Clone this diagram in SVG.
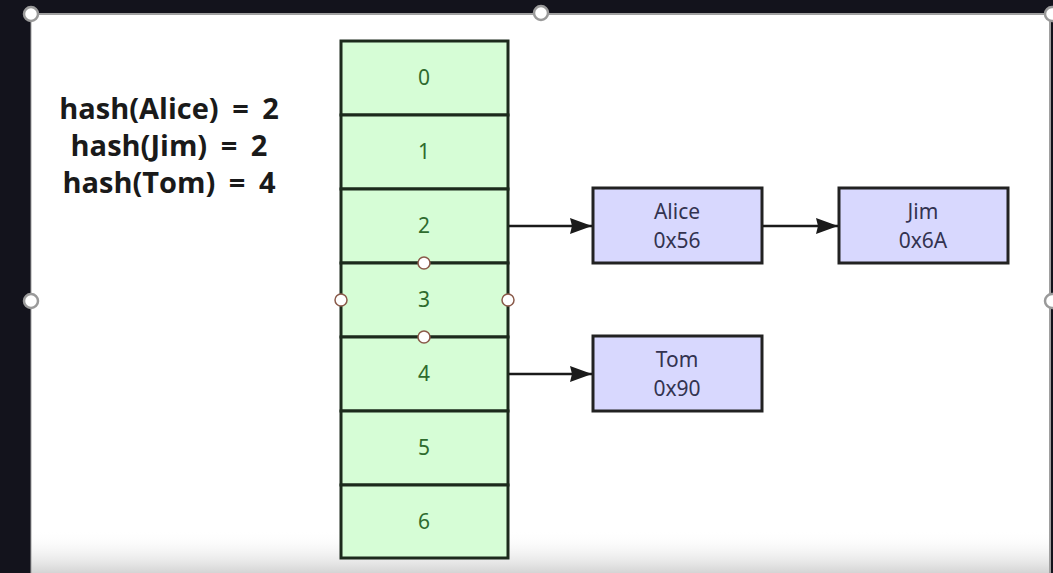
<svg xmlns="http://www.w3.org/2000/svg" width="1053" height="573" viewBox="0 0 1053 573">
<defs>
<linearGradient id="fade" x1="0" y1="0" x2="0" y2="1">
<stop offset="0" stop-color="#ffffff" stop-opacity="0"/>
<stop offset="1" stop-color="#d4d4d4"/>
</linearGradient>
<marker id="arr" viewBox="0 0 22 16" refX="22" refY="8" markerWidth="22" markerHeight="16" markerUnits="userSpaceOnUse" orient="auto">
<path d="M0,0 L22,8 L0,16 L2,8 Z" fill="#1a1a1a"/>
</marker>
</defs>
<style>
.cell{fill:#d6fdd6;stroke:#1c2a1c;stroke-width:3}
.num{font-family:"Noto Sans","DejaVu Sans",sans-serif;font-size:21px;fill:#2e6b2e;text-anchor:middle}
.box{fill:#d8d8fe;stroke:#222;stroke-width:3}
.lbl{font-family:"Noto Sans","DejaVu Sans",sans-serif;font-size:21px;fill:#333350;text-anchor:middle}
.hash{font-family:"Open Sans","Noto Sans",sans-serif;font-weight:bold;font-size:29px;word-spacing:6px;fill:#1a1a1a;text-anchor:middle}
.handle{fill:#ffffff;stroke:#9a9a9a;stroke-width:2.5}
.sh{fill:#ffffff;stroke:#8a5a4a;stroke-width:1.5}
.edge{stroke:#1a1a1a;stroke-width:2.5;fill:none;marker-end:url(#arr)}
</style>
<rect x="0" y="0" width="1053" height="573" fill="#13131c"/>
<rect x="31" y="14" width="1019" height="559" fill="#ffffff"/>
<rect x="31" y="530" width="1019" height="43" fill="url(#fade)"/>
<line x1="31" y1="14" x2="1050" y2="14" stroke="#a0a0a0" stroke-width="2"/>
<line x1="1050" y1="14" x2="1050" y2="573" stroke="#a0a0a0" stroke-width="2"/>
<line x1="31" y1="14" x2="31" y2="573" stroke="#a0a0a0" stroke-width="1"/>

<g id="hash-text">
<text class="hash" x="169" y="119">hash(Alice) = 2</text>
<text class="hash" x="169" y="156">hash(Jim) = 2</text>
<text class="hash" x="169" y="193">hash(Tom) = 4</text>
</g>

<g id="table">
<g id="cell0"><rect class="cell" x="341" y="41" width="167" height="74"/><text class="num" x="424" y="85">0</text></g>
<g id="cell1"><rect class="cell" x="341" y="115" width="167" height="74"/><text class="num" x="424" y="159">1</text></g>
<g id="cell2"><rect class="cell" x="341" y="189" width="167" height="74"/><text class="num" x="424" y="233">2</text></g>
<g id="cell3"><rect class="cell" x="341" y="263" width="167" height="74"/><text class="num" x="424" y="307">3</text></g>
<g id="cell4"><rect class="cell" x="341" y="337" width="167" height="74"/><text class="num" x="424" y="381">4</text></g>
<g id="cell5"><rect class="cell" x="341" y="411" width="167" height="74"/><text class="num" x="424" y="455">5</text></g>
<g id="cell6"><rect class="cell" x="341" y="485" width="167" height="73"/><text class="num" x="424" y="529">6</text></g>
</g>

<g id="alice"><rect class="box" x="593" y="188" width="169" height="75"/><text class="lbl" x="677" y="219">Alice</text><text class="lbl" x="677" y="248">0x56</text></g>
<g id="jim"><rect class="box" x="839" y="188" width="169" height="75"/><text class="lbl" x="923" y="219">Jim</text><text class="lbl" x="923" y="248">0x6A</text></g>
<g id="tom"><rect class="box" x="593" y="336" width="169" height="75"/><text class="lbl" x="677" y="367">Tom</text><text class="lbl" x="677" y="396">0x90</text></g>

<g id="connectors">
<line class="edge" x1="509" y1="226" x2="592" y2="226"/>
<line class="edge" x1="763" y1="226" x2="838" y2="226"/>
<line class="edge" x1="509" y1="374" x2="592" y2="374"/>
</g>

<g id="handles">
<circle class="handle" cx="31" cy="14" r="7"/>
<circle class="handle" cx="541" cy="13" r="7"/>
<circle class="handle" cx="1052" cy="14" r="7"/>
<circle class="handle" cx="31" cy="301" r="7"/>
<circle class="handle" cx="1052" cy="301" r="7"/>
<circle class="sh" cx="424" cy="263" r="6"/>
<circle class="sh" cx="424" cy="337" r="6"/>
<circle class="sh" cx="341" cy="300" r="6"/>
<circle class="sh" cx="508" cy="300" r="6"/>
</g>
</svg>
